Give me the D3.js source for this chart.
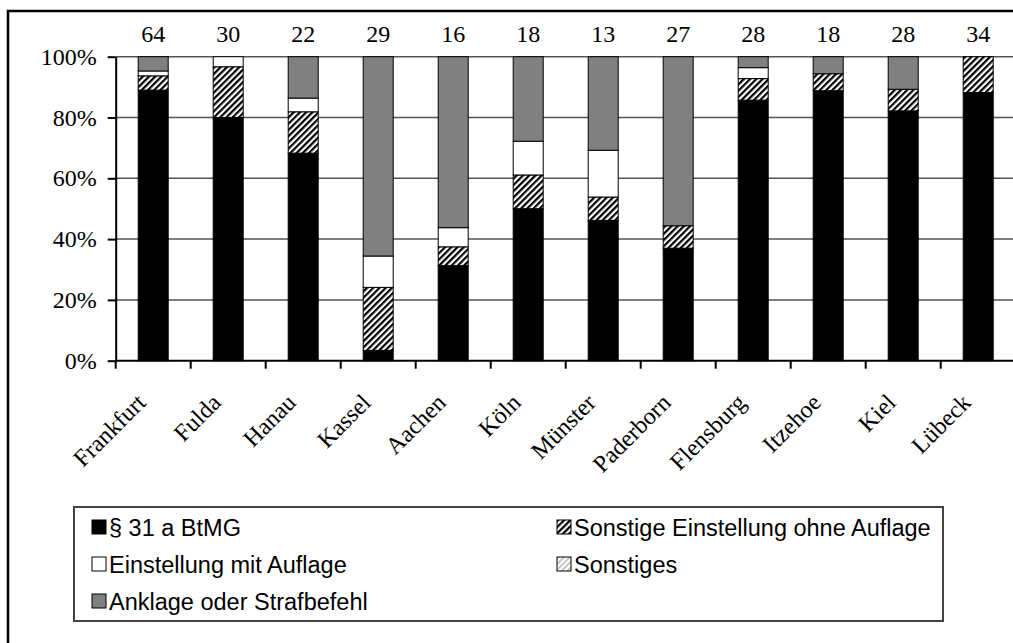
<!DOCTYPE html>
<html><head><meta charset="utf-8">
<script src="https://cdn.jsdelivr.net/npm/d3@7/dist/d3.min.js"></script>
<style>
html,body{margin:0;padding:0;background:#fff;}
svg{display:block;}
</style></head>
<body>
<script>
const categories = ["Frankfurt","Fulda","Hanau","Kassel","Aachen","Köln","Münster","Paderborn","Flensburg","Itzehoe","Kiel","Lübeck"];
const counts = [64,30,22,29,16,18,13,27,28,18,28,34];
const seriesNames = ["§ 31 a BtMG","Sonstige Einstellung ohne Auflage","Einstellung mit Auflage","Sonstiges","Anklage oder Strafbefehl"];
const s31a      = [89.1,80.0,68.2, 3.4,31.3,50.0,46.2,37.0,85.7,88.9,82.1,88.2];
const ohneAufl  = [ 4.7,16.7,13.6,20.7, 6.2,11.1, 7.7, 7.4, 7.1, 5.6, 7.1,11.8];
const mitAufl   = [ 1.6, 3.3, 4.5,10.3, 6.3,11.1,15.4, 0.0, 3.6, 0.0, 0.0, 0.0];
const sonstiges = [ 0.0, 0.0, 0.0, 0.0, 0.0, 0.0, 0.0, 0.0, 0.0, 0.0, 0.0, 0.0];
const anklage   = [ 4.7, 0.0,13.6,65.5,56.3,27.8,30.8,55.6, 3.6, 5.6,10.7, 0.0];
const yTicks = [0,0.2,0.4,0.6,0.8,1];

const W = 1013, H = 643;
const svg = d3.select("body").append("svg").attr("width", W).attr("height", H);

const defs = svg.append("defs");
const hatch = defs.append("pattern").attr("id","hatch").attr("patternUnits","userSpaceOnUse")
  .attr("width",4.4).attr("height",4.4).attr("patternTransform","rotate(45)");
hatch.append("rect").attr("width",4.4).attr("height",4.4).attr("fill","#fff");
hatch.append("rect").attr("width",2.2).attr("height",4.4).attr("fill","#000");
const hatchL = defs.append("pattern").attr("id","hatchL").attr("patternUnits","userSpaceOnUse")
  .attr("width",4).attr("height",4).attr("patternTransform","rotate(45)");
hatchL.append("rect").attr("width",4).attr("height",4).attr("fill","#fff");
hatchL.append("rect").attr("width",1.6).attr("height",4).attr("fill","#b8b8b8");

const fills = ["#000","url(#hatch)","#fff","url(#hatchL)","#808080"];

const keys = seriesNames;
const table = categories.map((c,i)=>({cat:c, [keys[0]]:s31a[i], [keys[1]]:ohneAufl[i], [keys[2]]:mitAufl[i], [keys[3]]:sonstiges[i], [keys[4]]:anklage[i]}));
const stacked = d3.stack().keys(keys).offset(d3.stackOffsetExpand)(table);

// outer frame
svg.append("rect").attr("x",8).attr("y",11).attr("width",1030).attr("height",660)
  .attr("fill","none").attr("stroke","#000").attr("stroke-width",2.5);

const x = d3.scaleBand().domain(categories).range([115.7,1015.7]).padding(0);
const y = d3.scaleLinear().domain([0,1]).range([360.7,56.7]);
const bw = x.bandwidth()*0.4;

// gridlines
svg.append("g").selectAll("line").data(yTicks.filter(d=>d>0)).join("line")
  .attr("x1",115.7).attr("x2",1015.7).attr("y1",d=>y(d)).attr("y2",d=>y(d))
  .attr("stroke","#555").attr("stroke-width",1.5);

// bars
const g = svg.append("g");
stacked.forEach((s,si)=>{
  g.append("g").selectAll("rect").data(s.filter(d=>d[1]-d[0]>1e-6)).join("rect")
    .attr("x",d=>x(d.data.cat)+(x.bandwidth()-bw)/2)
    .attr("y",d=>y(d[1]))
    .attr("width",bw)
    .attr("height",d=>y(d[0])-y(d[1]))
    .attr("fill",fills[si]).attr("stroke","#000").attr("stroke-width",1);
});

// y axis
const yAxis = svg.append("g").attr("transform","translate(115.7,0)")
  .call(d3.axisLeft(y).tickValues(yTicks).tickFormat(d3.format(".0%")).tickSize(8).tickPadding(11).tickSizeOuter(0));
yAxis.select(".domain").attr("stroke","#000").attr("stroke-width",2);
yAxis.selectAll(".tick line").attr("stroke","#000").attr("stroke-width",2);
yAxis.selectAll("text").attr("font-family","'Liberation Serif', 'Times New Roman', serif").attr("font-size",24).attr("fill","#000");

// x axis line and ticks at category boundaries
svg.append("line").attr("x1",115.7).attr("x2",1015.7).attr("y1",y(0)).attr("y2",y(0))
  .attr("stroke","#000").attr("stroke-width",2);
svg.append("g").selectAll("line").data(categories).join("line")
  .attr("x1",d=>x(d)).attr("x2",d=>x(d)).attr("y1",y(0)).attr("y2",y(0)+8)
  .attr("stroke","#000").attr("stroke-width",2);

// category labels
svg.append("g").selectAll("text").data(categories).join("text")
  .attr("transform",d=>`translate(${x(d)+x.bandwidth()/2-6},${404}) rotate(-45)`)
  .attr("text-anchor","end")
  .attr("font-family","'Liberation Serif', 'Times New Roman', serif").attr("font-size",24)
  .text(d=>d);

// count labels
svg.append("g").selectAll("text").data(categories).join("text")
  .attr("x",d=>x(d)+x.bandwidth()/2).attr("y",42)
  .attr("text-anchor","middle")
  .attr("font-family","'Liberation Serif', 'Times New Roman', serif").attr("font-size",24)
  .text((d,i)=>counts[i]);

// legend
const lg = svg.append("g");
lg.append("rect").attr("x",74).attr("y",507).attr("width",869).attr("height",114)
  .attr("fill","#fff").attr("stroke","#444").attr("stroke-width",2);
const legendPos = [[92,527],[557,527],[92,564],[557,564],[92,601]];
const legendOrder = [0,1,2,3,4];
legendOrder.forEach((si,k)=>{
  const [lx,ly] = legendPos[k];
  lg.append("rect").attr("x",lx).attr("y",ly-7).attr("width",14).attr("height",14)
    .attr("fill",fills[si]).attr("stroke","#000").attr("stroke-width",1);
  lg.append("text").attr("x",lx+17).attr("y",ly+8.5)
    .attr("font-family","'Liberation Sans', Arial, sans-serif").attr("font-size",23.5)
    .text(seriesNames[si]);
});
</script>
</body></html>
